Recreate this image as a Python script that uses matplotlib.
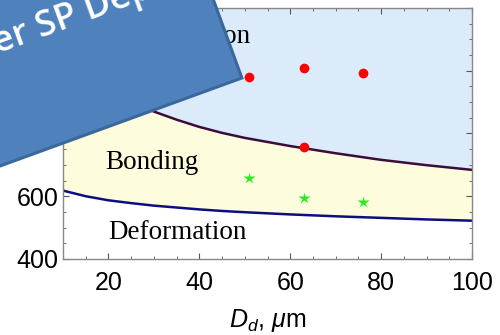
import numpy as np
import matplotlib
matplotlib.use("Agg")
import matplotlib.pyplot as plt
from matplotlib.patches import Rectangle
from matplotlib.ticker import MultipleLocator

plt.rcParams["font.family"] = ["Liberation Sans", "DejaVu Sans"]
plt.rcParams["mathtext.fontset"] = "custom"
plt.rcParams["mathtext.rm"] = "Liberation Sans"
plt.rcParams["mathtext.it"] = "Liberation Sans:italic"

# window boundaries vs particle diameter
d_grid = [10, 15, 20, 25, 30, 35, 40, 45, 50, 60, 70, 80, 90, 100]
v_erosion = [1084, 999, 944, 903, 870, 844, 821, 802, 786, 760, 737, 716, 699, 684]
v_deposit = [618, 600, 587, 578, 570, 564, 558, 553, 549, 542, 536, 531, 526, 522]

# experiments
d_eroded = [51, 63, 76, 63]
v_eroded = [981, 1008, 994, 758]
d_bonded = [51, 63, 76]
v_bonded = [657, 593, 580]

x_ticks = [20, 40, 60, 80, 100]
y_ticks = [400, 600, 800, 1000, 1200]

fig = plt.figure(figsize=(5, 3.35), dpi=100)
ax = fig.add_axes([0.126, 0.227, 0.818, 0.749])

ax.fill_between(d_grid, v_erosion, 1200, color="#dcebfa", lw=0)
ax.fill_between(d_grid, v_deposit, v_erosion, color="#fdfcdc", lw=0)
ax.plot(d_grid, v_erosion, color="#3b0b3b", lw=1.8)
ax.plot(d_grid, v_deposit, color="#0d0d80", lw=1.8)

ax.plot(d_eroded, v_eroded, "o", color="#ff0000", ms=7, mec="none")
ax.plot(d_bonded, v_bonded, "*", color="#22ee22", ms=9, mec="none")

serif = ["Liberation Serif", "DejaVu Serif"]
ax.text(51.2, 1089, "Erosion", family=serif, fontsize=19.5, ha="right", va="baseline")
ax.text(29.6, 709, "Bonding", family=serif, fontsize=19.5, ha="center", va="center")
ax.text(35.1, 483, "Deformation", family=serif, fontsize=19.5, ha="center", va="center")

ax.set_xlim(10, 100)
ax.set_ylim(400, 1200)
ax.set_xticks(x_ticks)
ax.set_yticks(y_ticks)
ax.xaxis.set_minor_locator(MultipleLocator(5))
ax.yaxis.set_minor_locator(MultipleLocator(50))
ax.tick_params(which="both", direction="in", top=True, right=True, color="#555555")
ax.tick_params(which="major", length=4, labelsize=18)
ax.tick_params(which="minor", length=2.5)
ax.tick_params(axis="x", pad=9)
ax.tick_params(axis="y", pad=3)
for s in ax.spines.values():
    s.set_color("#888888")
    s.set_linewidth(1)

ax.set_xlabel(r"$D_d$, $\mu$m", fontsize=18, labelpad=8)

# slide banner over the corner
box = Rectangle((-1.34, 1.202), 4.0, 3.0, angle=20, transform=fig.dpi_scale_trans,
                facecolor="#4f81bd", edgecolor="#3a679c", lw=2.2, zorder=10)
fig.add_artist(box)
fig.text(-0.57, 2.61, "Laser SP Deposition", transform=fig.dpi_scale_trans,
         family=["Open Sans", "DejaVu Sans"], fontweight="semibold", fontsize=26,
         color="white", rotation=20, rotation_mode="anchor",
         ha="left", va="baseline", zorder=11)

fig.savefig("out.png", dpi=100)
